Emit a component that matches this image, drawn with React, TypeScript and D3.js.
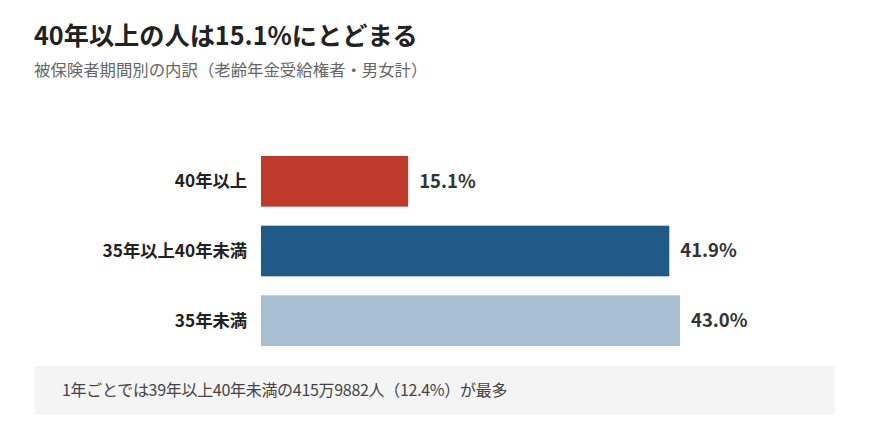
import { useEffect, useRef } from 'react';
import * as d3 from 'd3';

const categories = ['40年以上', '35年以上40年未満', '35年未満'];
const values = [15.1, 41.9, 43.0];
const colors = ['#bf3a2b', '#1f5a88', '#a8bfd3'];

const title = '40年以上の人は15.1%にとどまる';
const subtitle = '被保険者期間別の内訳（老齢年金受給権者・男女計）';
const note = '1年ごとでは39年以上40年未満の415万9882人（12.4%）が最多';

const FONT = '"Noto Sans CJK JP", "Noto Sans", sans-serif';

export default function App() {
  const ref = useRef<SVGSVGElement>(null);

  useEffect(() => {
    if (!ref.current) return;
    const W = 870;
    const H = 448;
    const svg = d3.select(ref.current);
    svg.selectAll('*').remove();
    svg.attr('width', W).attr('height', H).attr('viewBox', `0 0 ${W} ${H}`);

    svg.append('rect').attr('width', W).attr('height', H).attr('fill', '#fff');

    // Title block
    svg.append('text')
      .attr('x', 34).attr('y', 45)
      .attr('font-family', FONT).attr('font-size', 25.2).attr('font-weight', 700)
      .attr('fill', '#222')
      .text(title);
    svg.append('text')
      .attr('x', 34).attr('y', 76)
      .attr('font-family', FONT).attr('font-size', 16.4)
      .attr('fill', '#666')
      .text(subtitle);

    // Bars
    const x = d3.scaleLinear().domain([0, 43]).range([261, 680]);
    const y = d3.scaleBand<string>()
      .domain(categories)
      .range([146.5, 355.5])
      .paddingInner(0.273)
      .paddingOuter(0.1365);

    const rows = categories.map((c, i) => ({ c, v: values[i], col: colors[i] }));

    const g = svg.append('g');
    g.selectAll('rect.bar')
      .data(rows)
      .join('rect')
      .attr('class', 'bar')
      .attr('x', x(0))
      .attr('y', d => y(d.c)!)
      .attr('width', d => x(d.v) - x(0))
      .attr('height', y.bandwidth())
      .attr('fill', d => d.col);

    g.selectAll('text.cat')
      .data(rows)
      .join('text')
      .attr('class', 'cat')
      .attr('x', 247)
      .attr('y', d => y(d.c)! + y.bandwidth() / 2)
      .attr('dy', '0.35em')
      .attr('text-anchor', 'end')
      .attr('font-family', FONT).attr('font-size', 17.3).attr('font-weight', 700)
      .attr('fill', '#222')
      .text(d => d.c);

    g.selectAll('text.val')
      .data(rows)
      .join('text')
      .attr('class', 'val')
      .attr('x', d => x(d.v) + 11)
      .attr('y', d => y(d.c)! + y.bandwidth() / 2)
      .attr('dy', '0.35em')
      .attr('font-family', FONT).attr('font-size', 18.5).attr('font-weight', 700)
      .attr('fill', '#333')
      .text(d => `${d.v.toFixed(1)}%`);

    // Note box
    svg.append('rect')
      .attr('x', 35).attr('y', 366).attr('width', 800).attr('height', 49)
      .attr('fill', '#f4f4f4');
    svg.append('text')
      .attr('x', 62).attr('y', 390)
      .attr('dy', '0.35em')
      .attr('font-family', FONT).attr('font-size', 16)
      .attr('fill', '#444')
      .attr('letter-spacing', -0.3)
      .text(note);
  }, []);

  return (
    <svg ref={ref} style={{ position: 'absolute', left: 0, top: 0, display: 'block' }} />
  );
}
